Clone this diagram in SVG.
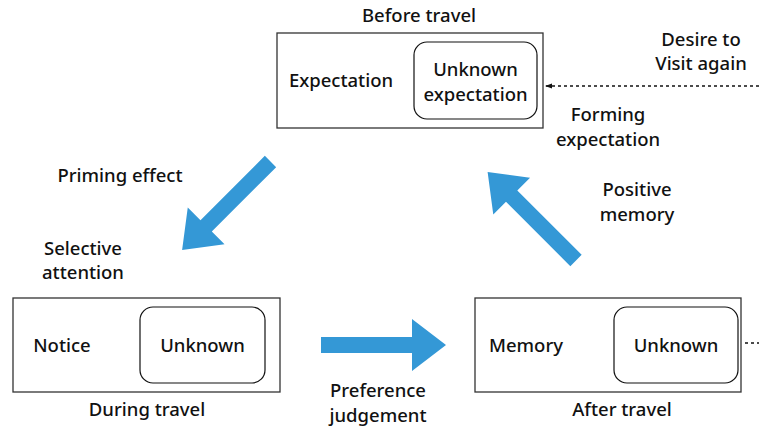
<svg xmlns="http://www.w3.org/2000/svg" width="759" height="431" viewBox="0 0 759 431">
  <style>
    .t { font-family: "Noto Sans", "Liberation Sans", Arial, sans-serif; font-size: 18.5px; font-weight: 500; fill: #111; text-anchor: middle; }
    .frame { fill: #fff; stroke: #333; stroke-width: 1.3; }
    .inner { fill: #fff; stroke: #111; stroke-width: 1.2; }
    .big { fill: #3498d6; }
    .dots { stroke: #111; stroke-width: 1.3; stroke-dasharray: 3 3; fill: none; }
  </style>
  <defs>
    <!-- block arrow pointing along +x, tail centred at the origin -->
    <path id="blockArrow" d="M0,-8 H91 V-26 L125,0 L91,26 V8 H0 Z"/>
    <marker id="smallHead" markerWidth="8" markerHeight="8" refX="7" refY="4" orient="auto" markerUnits="userSpaceOnUse">
      <path d="M0,1.5 L7,4 L0,6.5 Z" fill="#111"/>
    </marker>
  </defs>

  <rect width="759" height="431" fill="#fff"/>

  <!-- stage: before travel -->
  <g id="before-travel">
    <text class="t" x="419" y="22">Before travel</text>
    <rect class="frame" x="277" y="33" width="266" height="95"/>
    <text class="t" x="341" y="87">Expectation</text>
    <rect class="inner" x="414" y="42" width="123" height="77" rx="13"/>
    <text class="t" x="475.5" y="76">Unknown</text>
    <text class="t" x="475.5" y="101">expectation</text>
  </g>

  <!-- stage: during travel -->
  <g id="during-travel">
    <rect class="frame" x="13" y="298" width="267" height="94"/>
    <text class="t" x="62" y="352">Notice</text>
    <rect class="inner" x="140" y="307" width="125" height="76" rx="13"/>
    <text class="t" x="202.5" y="352">Unknown</text>
    <text class="t" x="147" y="416">During travel</text>
  </g>

  <!-- stage: after travel -->
  <g id="after-travel">
    <rect class="frame" x="475" y="298" width="266" height="94"/>
    <text class="t" x="526" y="352">Memory</text>
    <rect class="inner" x="614" y="307" width="124" height="76" rx="13"/>
    <text class="t" x="676" y="352">Unknown</text>
    <text class="t" x="622" y="416">After travel</text>
  </g>

  <!-- transitions between stages -->
  <g id="connectors">
    <use href="#blockArrow" class="big" transform="translate(270.5,161.5) rotate(135)"/>
    <use href="#blockArrow" class="big" transform="translate(321,345)"/>
    <use href="#blockArrow" class="big" transform="translate(576,260.5) rotate(-135)"/>
    <line class="dots" x1="759" y1="86" x2="545" y2="86" marker-end="url(#smallHead)"/>
    <line class="dots" x1="745" y1="343" x2="759" y2="343"/>
  </g>

  <!-- transition labels -->
  <g id="labels">
    <text class="t" x="120" y="182">Priming effect</text>
    <text class="t" x="83" y="255">Selective</text>
    <text class="t" x="83" y="279">attention</text>
    <text class="t" x="378" y="397">Preference</text>
    <text class="t" x="378" y="422">judgement</text>
    <text class="t" x="637" y="196">Positive</text>
    <text class="t" x="637" y="221">memory</text>
    <text class="t" x="608" y="121">Forming</text>
    <text class="t" x="608" y="146">expectation</text>
    <text class="t" x="701" y="46">Desire to</text>
    <text class="t" x="701" y="70">Visit again</text>
  </g>
</svg>
